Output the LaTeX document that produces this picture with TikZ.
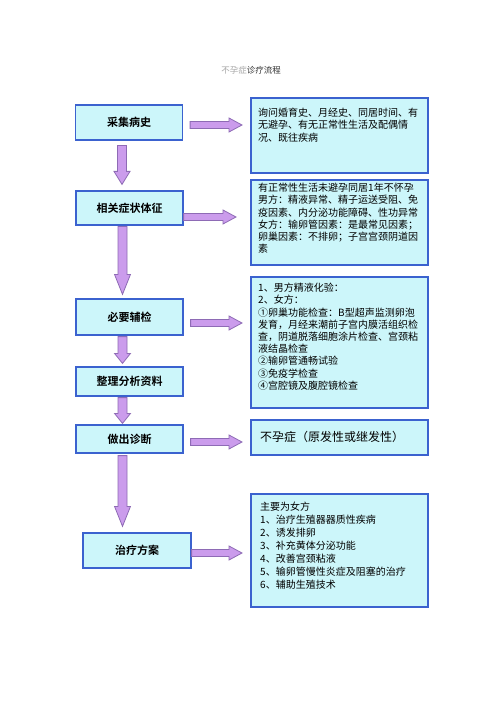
\documentclass[tikz,border=0pt]{standalone}
\usepackage{fontspec}
\newfontfamily\cjk{Noto Sans CJK SC}[BoldFont={Noto Sans CJK SC Bold}]
\usetikzlibrary{calc}
\definecolor{boxfill}{HTML}{CCF6FA}
\definecolor{boxline}{HTML}{3B62CF}
\definecolor{arrfill}{HTML}{CB9CEC}
\definecolor{arrline}{HTML}{8E6BB5}
\tikzset{
 lbox/.style={draw=boxline, fill=boxfill, line width=1.2pt, minimum width=107pt, inner sep=0pt, font=\cjk\bfseries\fontsize{11}{13}\selectfont},
 rbox/.style={draw=boxline, fill=boxfill, line width=2pt, minimum width=177pt, inner sep=0pt},
 rtext/.style={anchor=north west, inner sep=0pt, align=left, font=\cjk\fontsize{10}{12.2}\selectfont},
 fat/.style={draw=arrline, fill=arrfill, line width=0.8pt, line join=miter},
}
\newcommand\fatdown[3]{\draw[fat] let \p1=(#1), \p2=(#2) in
 (\x1-4.5pt,\y1) -- (\x1+4.5pt,\y1) -- (\x1+4.5pt,\y2+#3pt) -- (\x1+8pt,\y2+#3pt)
 -- (\x1,\y2) -- (\x1-8pt,\y2+#3pt) -- (\x1-4.5pt,\y2+#3pt) -- cycle;}
\newcommand\fatright[2]{\draw[fat] let \p1=(#1), \p2=(#2) in
 (\x1,\y1+3.5pt) -- (\x2-13pt,\y1+3.5pt) -- (\x2-13pt,\y1+7pt) -- (\x2,\y1)
 -- (\x2-13pt,\y1-7pt) -- (\x2-13pt,\y1-3.5pt) -- (\x1,\y1-3.5pt) -- cycle;}
\begin{document}
\begin{tikzpicture}[x=1pt,y=-1pt]
\useasboundingbox[fill=white] (0,0) rectangle (500,708);
\node (title) at (251,70) {\cjk\fontsize{8.5}{10}\selectfont\textcolor{gray!70}{不孕症}\textcolor{black!80}{诊疗流程}};
% left boxes
\node[lbox, minimum height=35pt] (b1) at (129,122.5) {采集病史};
\node[lbox, minimum height=34pt] (b2) at (129.5,208) {相关症状体征};
\node[lbox, minimum height=36pt] (b3) at (129.5,317) {必要辅检};
\node[lbox, minimum height=29pt] (b4) at (129.5,381.5) {整理分析资料};
\node[lbox, minimum height=28pt] (b5) at (129.5,439) {做出诊断};
\node[lbox, minimum height=35pt, minimum width=108pt] (b6) at (137,550.5) {治疗方案};
% right boxes
\node[rbox, minimum height=75pt] (r1) at (339.5,135.5) {};
\node[rbox, minimum height=85pt] (r2) at (339.5,222.5) {};
\node[rbox, minimum height=131pt] (r3) at (339.5,342.5) {};
\node[rbox, minimum height=35pt] (r4) at (339.5,437.5) {};
\node[rbox, minimum height=113pt] (r5) at (339.5,550.5) {};
\node[rtext] (t1) at (258,108) {询问婚育史、月经史、同居时间、有\\无避孕、有无正常性生活及配偶情\\况、既往疾病};
\node[rtext] (t2) at (258,183) {有正常性生活未避孕同居1年不怀孕\\男方：精液异常、精子运送受阻、免\\疫因素、内分泌功能障碍、性功异常\\女方：输卵管因素：是最常见因素；\\卵巢因素：不排卵；子宫宫颈阴道因\\素};
\node[rtext] (t3) at (258,283) {1、男方精液化验：\\2、女方：\\①卵巢功能检查：B型超声监测卵泡\\发育，月经来潮前子宫内膜活组织检\\查，阴道脱落细胞涂片检查、宫颈粘\\液结晶检查\\②输卵管通畅试验\\③免疫学检查\\④宫腔镜及腹腔镜检查};
\node[anchor=west, inner sep=0pt, font=\cjk\fontsize{12}{14}\selectfont] (t4) at (260,437) {不孕症（原发性或继发性）};
\node[rtext, font=\cjk\fontsize{10}{13}\selectfont] (t5) at (260,502) {主要为女方\\1、治疗生殖器器质性疾病\\2、诱发排卵\\3、补充黄体分泌功能\\4、改善宫颈粘液\\5、输卵管慢性炎症及阻塞的治疗\\6、辅助生殖技术};
% down arrows
\fatdown{$(b1.south)+(-7,5)$}{$(b2.north)+(-7,-6)$}{13}
\fatdown{$(b2.south)+(-7,1)$}{$(b3.north)+(-7,-4)$}{20}
\fatdown{$(b3.south)+(-7,1)$}{$(b4.north)+(-7,-3)$}{10}
\fatdown{$(b4.south)+(-7,1)$}{$(b5.north)+(-7,-1)$}{10}
\fatdown{$(b5.south)+(-7,2)$}{$(b6.north)+(-7,-6)$}{20}
% right arrows
\fatright{$(b1.east)+(7,2.5)$}{$(r1.west)+(-8,0)$}
\fatright{$(b2.east)+(0,9)$}{$(r2.west)+(-14,0)$}
\fatright{$(b3.east)+(7,6)$}{$(r3.west)+(-8,0)$}
\fatright{$(b5.east)+(7,3)$}{$(r4.west)+(-8,0)$}
\fatright{$(b6.east)+(0,2.5)$}{$(r5.west)+(-8,0)$}
\end{tikzpicture}
\end{document}
